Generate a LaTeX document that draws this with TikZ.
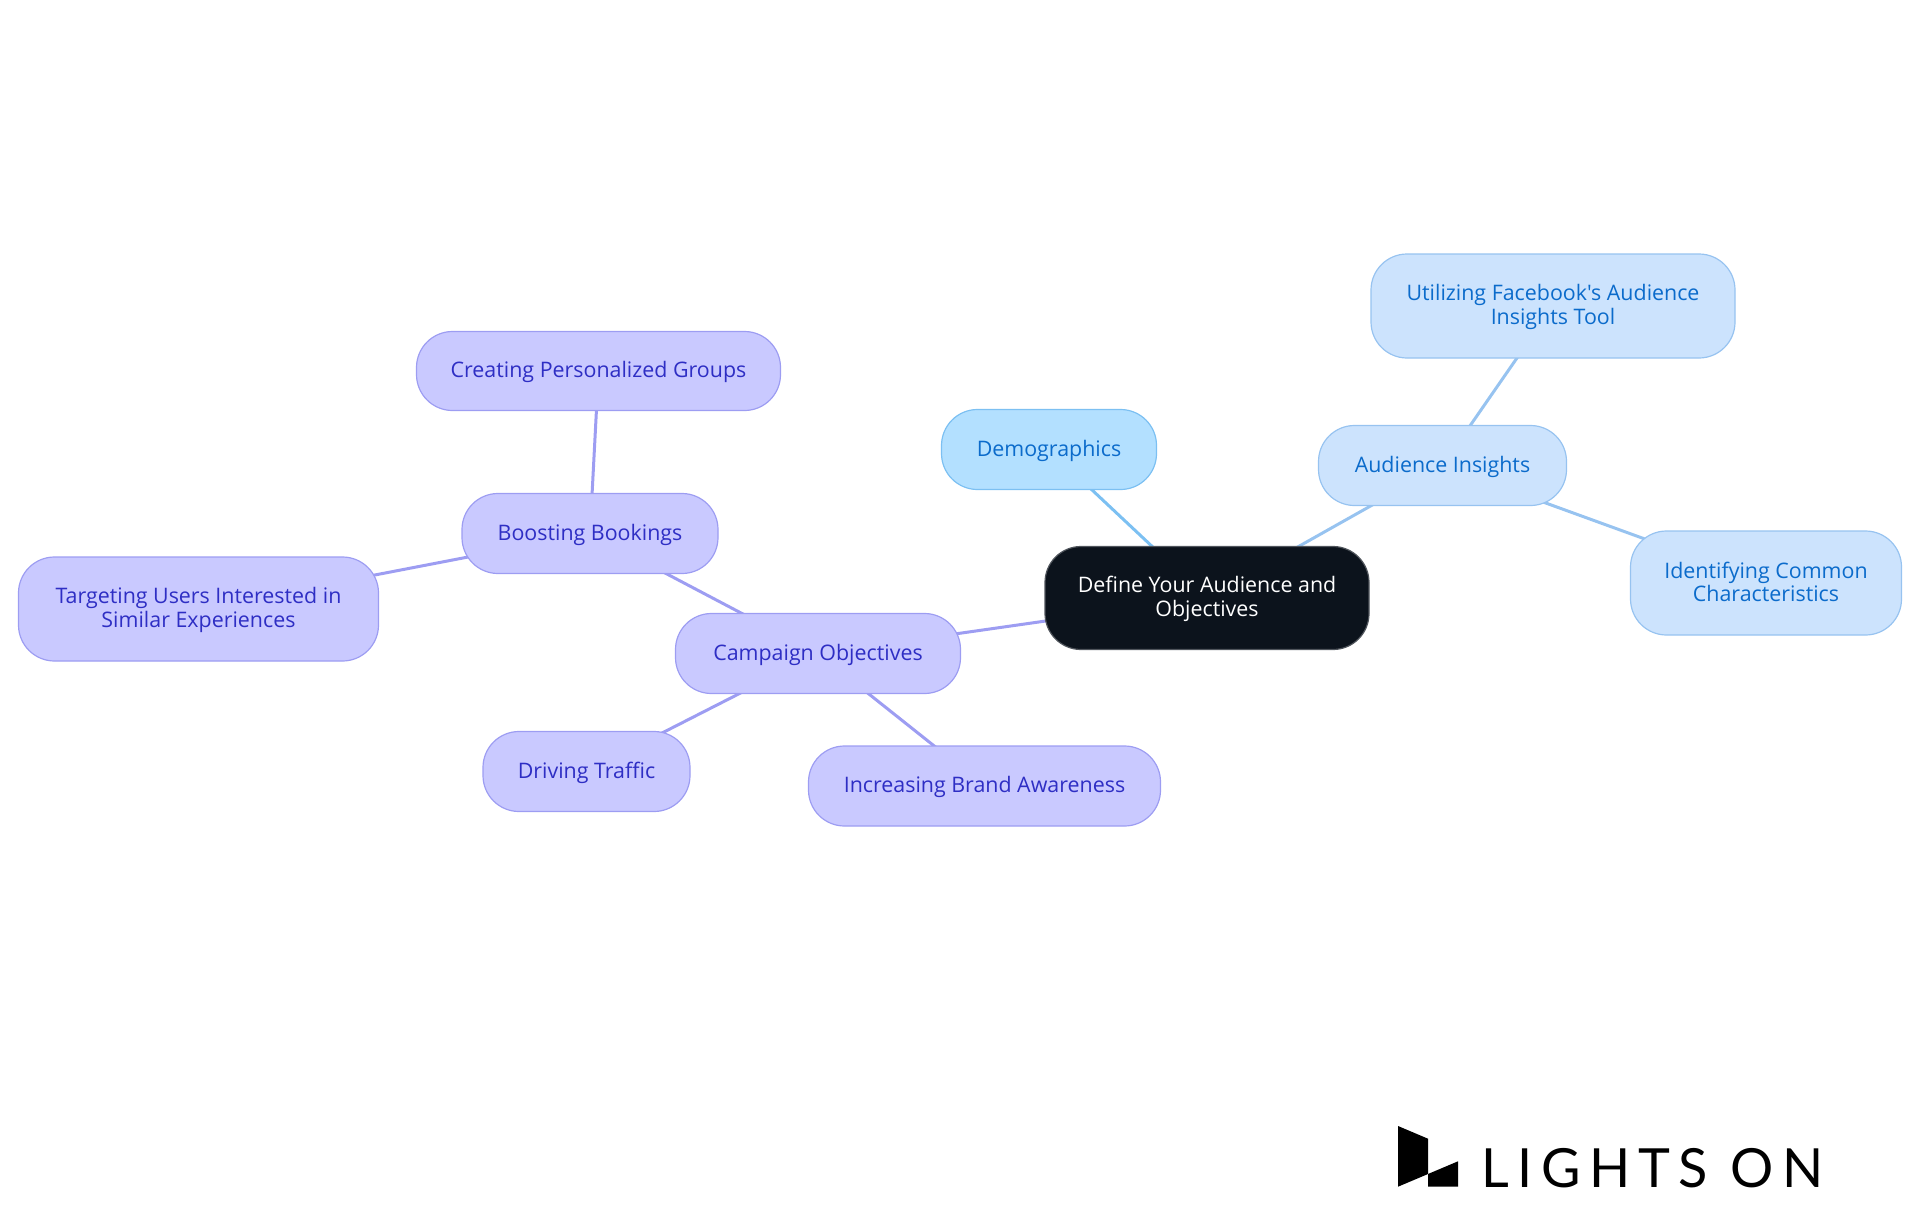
\documentclass[tikz,border=0pt]{standalone}
\usepackage{fontspec}
\newfontfamily\boxfont{Open Sans}
\newfontfamily\logofont[LetterSpace=15.7]{Lato}
\usetikzlibrary{backgrounds}
\definecolor{rootfill}{HTML}{0C131C}
\definecolor{rootline}{HTML}{50555C}
\definecolor{skyfill}{HTML}{B3E0FF}
\definecolor{skyline}{HTML}{7CC0F2}
\definecolor{bluefill}{HTML}{CCE3FD}
\definecolor{blueline}{HTML}{97C3F0}
\definecolor{bluetext}{HTML}{0B6BCB}
\definecolor{purpfill}{HTML}{C9C9FF}
\definecolor{purpline}{HTML}{9D9DF2}
\definecolor{purptext}{HTML}{2E2EC4}
\newcommand\dn[1]{\raisebox{-1.2pt}[\height][\depth]{#1}}
\newcommand\up[1]{\raisebox{1.2pt}[\height][\depth]{#1}}
\tikzset{
  x=1pt,y=-1pt,
  box/.style={rectangle,rounded corners=36pt,line width=1.2pt,align=center,inner sep=0pt,
    font=\boxfont\fontsize{21.4}{24}\selectfont},
  rootbox/.style={box,fill=rootfill,draw=rootline,text=white},
  skybox/.style={box,fill=skyfill,draw=skyline,text=bluetext},
  bluebox/.style={box,fill=bluefill,draw=blueline,text=bluetext},
  purpbox/.style={box,fill=purpfill,draw=purpline,text=purptext},
  link/.style={line width=3pt}
}
\begin{document}
\begin{tikzpicture}
\useasboundingbox (0,0) rectangle (1920,1215);
\node[rootbox,minimum width=324pt,minimum height=103pt] (root) at (1207,598) {\dn{Define Your Audience and}\\\dn{Objectives}};
\node[skybox,minimum width=215pt,minimum height=80pt] (demo) at (1049,449.5) {\dn{Demographics}};
\node[bluebox,minimum width=248pt,minimum height=80pt] (aud) at (1442.5,465.5) {\dn{Audience Insights}};
\node[bluebox,minimum width=364pt,minimum height=104pt] (fb) at (1553,306) {\dn{Utilizing Facebook's Audience}\\\dn{Insights Tool}};
\node[bluebox,minimum width=271pt,minimum height=104pt,font=\boxfont\fontsize{21.4}{22.5}\selectfont] (chars) at (1766,583) {\up{Identifying Common}\\\up{Characteristics}};
\node[purpbox,minimum width=285pt,minimum height=80pt] (camp) at (818,653.5) {\dn{Campaign Objectives}};
\node[purpbox,minimum width=256pt,minimum height=80pt] (book) at (590,533.5) {\dn{Boosting Bookings}};
\node[purpbox,minimum width=364pt,minimum height=79pt] (group) at (598.5,371) {\dn{Creating Personalized Groups}};
\node[purpbox,minimum width=360pt,minimum height=104pt] (target) at (198.5,609) {\dn{Targeting Users Interested in}\\\dn{Similar Experiences}};
\node[purpbox,minimum width=207pt,minimum height=80pt] (traffic) at (586.5,771.5) {\dn{Driving Traffic}};
\node[purpbox,minimum width=352pt,minimum height=80pt] (brand) at (984.5,786) {\dn{Increasing Brand Awareness}};
\begin{scope}[on background layer]
\draw[link,skyline] (root.center) -- (demo.center);
\draw[link,blueline] (root.center) -- (aud.center);
\draw[link,blueline] (aud.center) -- (fb.center);
\draw[link,blueline] (aud.center) -- (chars.center);
\draw[link,purpline] (root.center) -- (camp.center);
\draw[link,purpline] (camp.center) -- (book.center);
\draw[link,purpline] (book.center) -- (group.center);
\draw[link,purpline] (book.center) -- (target.center);
\draw[link,purpline] (camp.center) -- (traffic.center);
\draw[link,purpline] (camp.center) -- (brand.center);
\end{scope}
\fill[black] (1398,1126) -- (1428,1138.7) -- (1428,1174) -- (1398,1186.7) -- cycle;
\fill[black] (1428,1174) -- (1458,1161.3) -- (1458,1186.7) -- (1428,1186.7) -- cycle;
\node[anchor=base west,inner sep=0pt,text=black,font=\logofont\fontsize{54}{54}\selectfont] (logo) at (1481,1187) {LIGHTS ON};
\end{tikzpicture}
\end{document}
